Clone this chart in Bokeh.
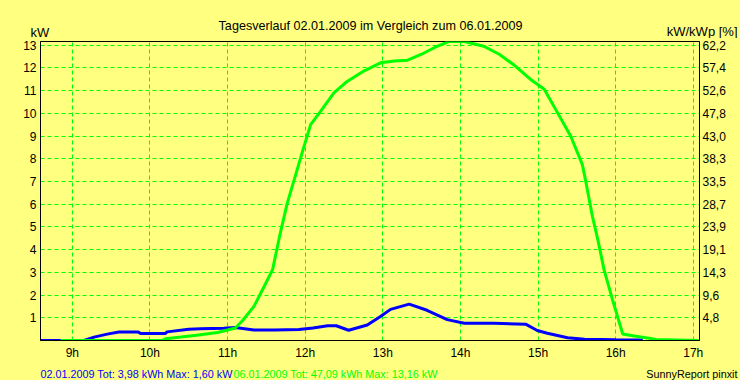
from bokeh.plotting import figure
from bokeh.layouts import column
from bokeh.models import (Range1d, LinearAxis, FixedTicker, Label, GlobalInlineStyleSheet)
from bokeh.embed import file_html
from bokeh.resources import INLINE

# ---- data ----
title_text = "Tagesverlauf 02.01.2009 im Vergleich zum 06.01.2009"
left_unit = "kW"
right_unit = "kW/kWp [%]"
footer_blue = "02.01.2009 Tot: 3,98 kWh Max: 1,60 kW"
footer_green = "06.01.2009 Tot: 47,09 kWh Max: 13,16 kW"
credit = "SunnyReport pinxit"

x_ticks = [9, 10, 11, 12, 13, 14, 15, 16, 17]
x_tick_labels = ["9h", "10h", "11h", "12h", "13h", "14h", "15h", "16h", "17h"]
y_ticks = [1, 2, 3, 4, 5, 6, 7, 8, 9, 10, 11, 12, 13]
right_tick_labels = ["4,8", "9,6", "14,3", "19,1", "23,9", "28,7", "33,5",
                     "38,3", "43,0", "47,8", "52,6", "57,4", "62,2"]

# 02.01.2009 (blue), time in hours, power in kW
blue_t = [8.59, 8.85, 9.15, 9.28, 9.45, 9.6, 9.85, 9.88, 10.2, 10.22, 10.5, 10.65,
          10.95, 11.1, 11.34, 11.6, 11.92, 12.1, 12.29, 12.4, 12.56, 12.8, 12.97,
          13.1, 13.34, 13.57, 13.83, 14.05, 14.43, 14.84, 14.99, 15.12, 15.38,
          15.6, 16.0, 16.35]
blue_kw = [0.0, 0.0, 0.0, 0.15, 0.28, 0.37, 0.37, 0.31, 0.31, 0.38, 0.5, 0.52,
           0.54, 0.57, 0.46, 0.46, 0.48, 0.55, 0.65, 0.65, 0.45, 0.68, 1.06,
           1.37, 1.6, 1.33, 0.92, 0.76, 0.76, 0.72, 0.44, 0.32, 0.12,
           0.05, 0.03, 0.02]

# 06.01.2009 (green)
green_t = [8.85, 10.16, 10.2, 10.4, 10.6, 10.87, 11.0, 11.1, 11.2, 11.34, 11.46,
           11.58, 11.68, 11.77, 11.86, 11.96, 12.07, 12.2, 12.37, 12.54, 12.76,
           12.97, 13.15, 13.32, 13.5, 13.7, 13.85, 14.05, 14.3, 14.5, 14.7, 14.9,
           15.08, 15.25, 15.42, 15.57, 15.61, 15.7, 15.77, 15.85, 15.96, 16.09,
           16.24, 16.43, 16.52, 17.07]
green_kw = [0.0, 0.0, 0.08, 0.15, 0.23, 0.35, 0.46, 0.55, 0.9, 1.5, 2.3,
            3.12, 4.74, 6.06, 7.09, 8.26, 9.5, 10.1, 10.9, 11.4, 11.87,
            12.22, 12.3, 12.34, 12.6, 12.95, 13.16, 13.16, 12.95, 12.6, 12.1, 11.5,
            11.06, 10.03, 9.0, 7.75, 7.09, 5.47, 4.44, 3.12, 1.79, 0.29,
            0.2, 0.1, 0.04, 0.0]

BG = "#FFFF80"
GREEN = "#00FF00"
BLUE = "#0000FF"
FONT = "Liberation Sans"
W = 740
TOP_H = 38
BOT_H = 16
MAIN_H = 380 - TOP_H - BOT_H


def text_strip(height):
    """A bare figure whose frame covers the whole canvas, 1 unit = 1 pixel."""
    f = figure(width=W, height=height, output_backend="svg", toolbar_location=None,
               x_range=Range1d(0, W), y_range=Range1d(height, 0),
               x_axis_location=None, y_axis_location=None,
               min_border=0, min_border_left=0, min_border_right=0,
               min_border_top=0, min_border_bottom=0)
    f.frame_align = False
    f.title.visible = False
    f.grid.visible = False
    f.outline_line_color = None
    f.background_fill_color = BG
    f.border_fill_color = BG
    return f


def lab(f, x, y, text, color="black", size="13px", align="left"):
    f.add_layout(Label(x=x, y=y, text=text, text_color=color, text_font=FONT,
                       text_font_size=size, text_align=align,
                       text_baseline="alphabetic"))


top = text_strip(TOP_H)
lab(top, 370, 25, title_text, size="12.6px", align="center")
lab(top, 30, 31.5, left_unit, size="13px")
lab(top, 737, 31, right_unit, size="13px", align="right")

bottom = text_strip(BOT_H)
lab(bottom, 40, 9.3, footer_blue, color=BLUE, size="10.8px")
lab(bottom, 233, 9.3, footer_green, color=GREEN, size="10.8px")
lab(bottom, 737, 9.3, credit, size="10.8px", align="right")

chart = figure(width=W, height=MAIN_H, output_backend="svg", toolbar_location=None,
               x_range=Range1d(8.59, 17.08), y_range=Range1d(0, 13.16),
               min_border_left=40, min_border_right=41, min_border_top=41 - TOP_H,
               min_border_bottom=24)
chart.frame_align = False
chart.title.visible = False
chart.background_fill_color = BG
chart.border_fill_color = BG
chart.outline_line_color = "black"
chart.outline_line_width = 1

chart.extra_y_ranges = {"pct": Range1d(0, 13.16)}
right = LinearAxis(y_range_name="pct")
chart.add_layout(right, "right")

for ax in [chart.xaxis[0], chart.yaxis[0], right]:
    ax.major_tick_in = 0
    ax.major_tick_out = 0
    ax.minor_tick_in = 0
    ax.minor_tick_out = 0
    ax.axis_line_color = "black"
    ax.major_label_text_font = FONT
    ax.major_label_text_font_size = "12px"
    ax.major_label_text_color = "black"

chart.xaxis[0].ticker = FixedTicker(ticks=x_ticks)
chart.xaxis[0].major_label_overrides = dict(zip(x_ticks, x_tick_labels))
chart.xaxis[0].major_label_standoff = 5
chart.yaxis[0].ticker = FixedTicker(ticks=y_ticks)
chart.yaxis[0].major_label_standoff = 4
right.ticker = FixedTicker(ticks=y_ticks)
right.major_label_overrides = dict(zip(y_ticks, right_tick_labels))
right.major_label_standoff = 3

for g in [chart.xgrid[0], chart.ygrid[0]]:
    g.grid_line_color = GREEN
    g.grid_line_dash = "4 3"
    g.grid_line_width = 1
chart.xgrid[0].ticker = FixedTicker(ticks=x_ticks)
chart.ygrid[0].ticker = FixedTicker(ticks=y_ticks)

chart.line(blue_t, blue_kw, line_color=BLUE, line_width=3)
chart.line(green_t, green_kw, line_color=GREEN, line_width=3)

p = column(top, chart, bottom, spacing=0)
p.stylesheets = [GlobalInlineStyleSheet(css="body{background:%s;}" % BG)]

html = file_html(p, INLINE)
open("out.html", "w").write(html)
